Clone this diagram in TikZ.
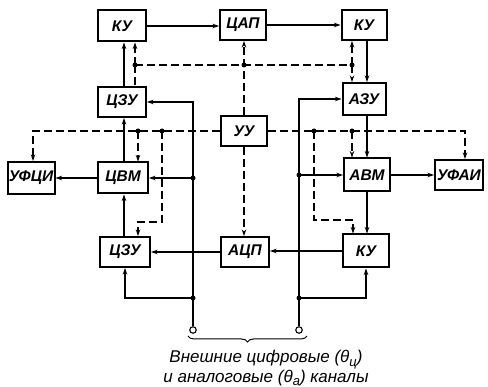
\documentclass[tikz,border=0pt]{standalone}
\usepackage{fontspec}
\setmainfont{Liberation Sans}
\newfontfamily\labfont{Liberation Sans}
\usetikzlibrary{arrows.meta,decorations.pathreplacing}
\begin{document}
\begin{tikzpicture}[x=1pt,y=-1pt,
 box/.style={draw, line width=2pt, minimum width=46pt, minimum height=30pt, inner sep=0pt,
   font=\labfont\itshape\bfseries\fontsize{15.5}{15.5}\selectfont},
 ln/.style={line width=1.3pt},
 arr/.style={ln, -{Stealth[length=6.5pt,width=4.5pt]}},
 dsh/.style={ln, dash pattern=on 8pt off 4pt},
 darr/.style={dsh, -{Stealth[length=6.5pt,width=4.5pt]}},
 jdot/.style={circle, fill, inner sep=0pt, minimum size=5pt},
 term/.style={circle, draw, line width=1.1pt, fill=white, inner sep=0pt, minimum size=6.5pt},
]
\useasboundingbox (0,0) rectangle (488,387);

% boxes
\node[box, minimum width=48pt, minimum height=31pt] (ku1) at (122,26) {КУ};
\node[box] (cap) at (243,25) {ЦАП};
\node[box, minimum width=45pt] (ku2) at (364,25) {КУ};
\node[box, minimum width=48pt] (czu1) at (122,102) {ЦЗУ};
\node[box] (uu) at (244,131) {УУ};
\node[box, minimum width=43pt, minimum height=32pt] (azu) at (364,99) {АЗУ};
\node[box, minimum width=47pt, minimum height=32pt] (ufci) at (31,178) {УФЦИ};
\node[box, minimum width=50pt, minimum height=31pt] (cvm) at (123,178) {ЦВМ};
\node[box, minimum width=46pt, minimum height=33pt] (avm) at (367,175) {АВМ};
\node[box, minimum width=48pt] (ufai) at (459,175) {УФАИ};
\node[box, minimum width=50pt] (czu2) at (125,252) {ЦЗУ};
\node[box, minimum width=48pt] (acp) at (245,252) {АЦП};
\node[box, minimum width=46pt, minimum height=33pt] (ku3) at (366,251) {КУ};

% terminals
\node[term] (cL) at (193,330) {};
\node[term] (cR) at (299,330) {};

% reference x / y positions
\coordinate (xa) at (124,0);
\coordinate (xb) at (135,0);
\coordinate (xc) at (138,0);
\coordinate (xd) at (162,0);
\coordinate (xL) at (193,0);
\coordinate (xm) at (244,0);
\coordinate (xR) at (299,0);
\coordinate (xe) at (314,0);
\coordinate (xf) at (352,0);
\coordinate (xh) at (353,0);
\coordinate (xg) at (367,0);
\coordinate (xu1) at (33,0);
\coordinate (xu2) at (465,0);
\coordinate (yt) at (0,65);
\coordinate (ym) at (0,131);
\coordinate (ybl) at (0,222);
\coordinate (ybr) at (0,220);
\coordinate (yj) at (0,298);

% junctions
\coordinate (jt1) at (xb |- yt);
\coordinate (jt2) at (xm |- yt);
\coordinate (jt3) at (xf |- yt);
\coordinate (jm1) at (xc |- ym);
\coordinate (jm2) at (xd |- ym);
\coordinate (jm3) at (xe |- ym);
\coordinate (jm4) at (xf |- ym);
\coordinate (jL1) at (xL |- cvm.east);
\coordinate (jL2) at (xL |- yj);
\coordinate (jR1) at (xR |- avm.west);
\coordinate (jR2) at (xR |- yj);

% solid connections
\draw[arr] (ku1.east) -- (ku1.east -| cap.west);
\draw[arr] (cap.east) -- (cap.east -| ku2.west);
\draw[arr] (xa |- czu1.north) -- (xa |- ku1.south);
\draw[arr] (xg |- ku2.south) -- (xg |- azu.north);
\draw[arr] (xa |- cvm.north) -- (xa |- czu1.south);
\draw[arr] (xa |- czu2.north) -- (xa |- cvm.south);
\draw[arr] (cvm.west) -- (cvm.west -| ufci.east);
\draw[arr] (avm.east) -- (avm.east -| ufai.west);
\draw[arr] (xg |- azu.south) -- (xg |- avm.north);
\draw[arr] (xg |- avm.south) -- (xg |- ku3.north);
\draw[arr] (ku3.west) -- (ku3.west -| acp.east);
\draw[arr] (acp.west) -- (acp.west -| czu2.east);

% buses
\draw[arr] (cL.north) -- (xL |- czu1.east) -- (czu1.east);
\draw[arr] (jL1) -- (cvm.east);
\draw[arr] (jL2) -- (czu2.south |- yj) -- (czu2.south);
\draw[arr] (cR.north) -- (xR |- azu.west) -- (azu.west);
\draw[arr] (jR1) -- (avm.west);
\draw[arr] (jR2) -- (ku3.south |- yj) -- (ku3.south);

% dashed control lines
\draw[dsh] (jt1) -- (jt3);
\draw[darr] (jt1) -- (xb |- ku1.south);
\draw[dsh] (jt1) -- (xb |- czu1.north);
\draw[darr] (xm |- uu.north) -- (xm |- cap.south);
\draw[darr] (jt3) -- (xf |- ku2.south);
\draw[darr] (jt3) -- (xf |- azu.north);
\draw[darr] (uu.west) -- (xu1 |- ym) -- (xu1 |- ufci.north);
\draw[darr] (uu.east) -- (xu2 |- ym) -- (xu2 |- ufai.north);
\draw[darr] (jm1) -- (xc |- cvm.north);
\draw[darr] (jm2) -- (xd |- ybl) -- (xc |- ybl) -- (xc |- czu2.north);
\draw[darr] (jm4) -- (xf |- avm.north);
\draw[darr] (jm3) -- (xe |- ybr) -- (xh |- ybr) -- (xh |- ku3.north);
\draw[darr] (xm |- uu.south) -- (xm |- acp.north);

% dots
\foreach \p in {jt1,jt2,jt3,jm1,jm2,jm3,jm4,jL1,jL2,jR1,jR2}
  \node[jdot] at (\p) {};

% brace and caption
\draw[line width=1pt, decorate, decoration={brace, amplitude=6pt, mirror}] (188,336) -- (307,336);
\node[font=\labfont\itshape\fontsize{17}{17}\selectfont, align=center, inner sep=0pt] (capt) at (266,368)
  {Внешние цифровые (θ\raisebox{-0.4ex}{\fontsize{13}{13}\selectfont ц})\\и аналоговые (θ\raisebox{-0.4ex}{\fontsize{13}{13}\selectfont a}) каналы};
\end{tikzpicture}
\end{document}
